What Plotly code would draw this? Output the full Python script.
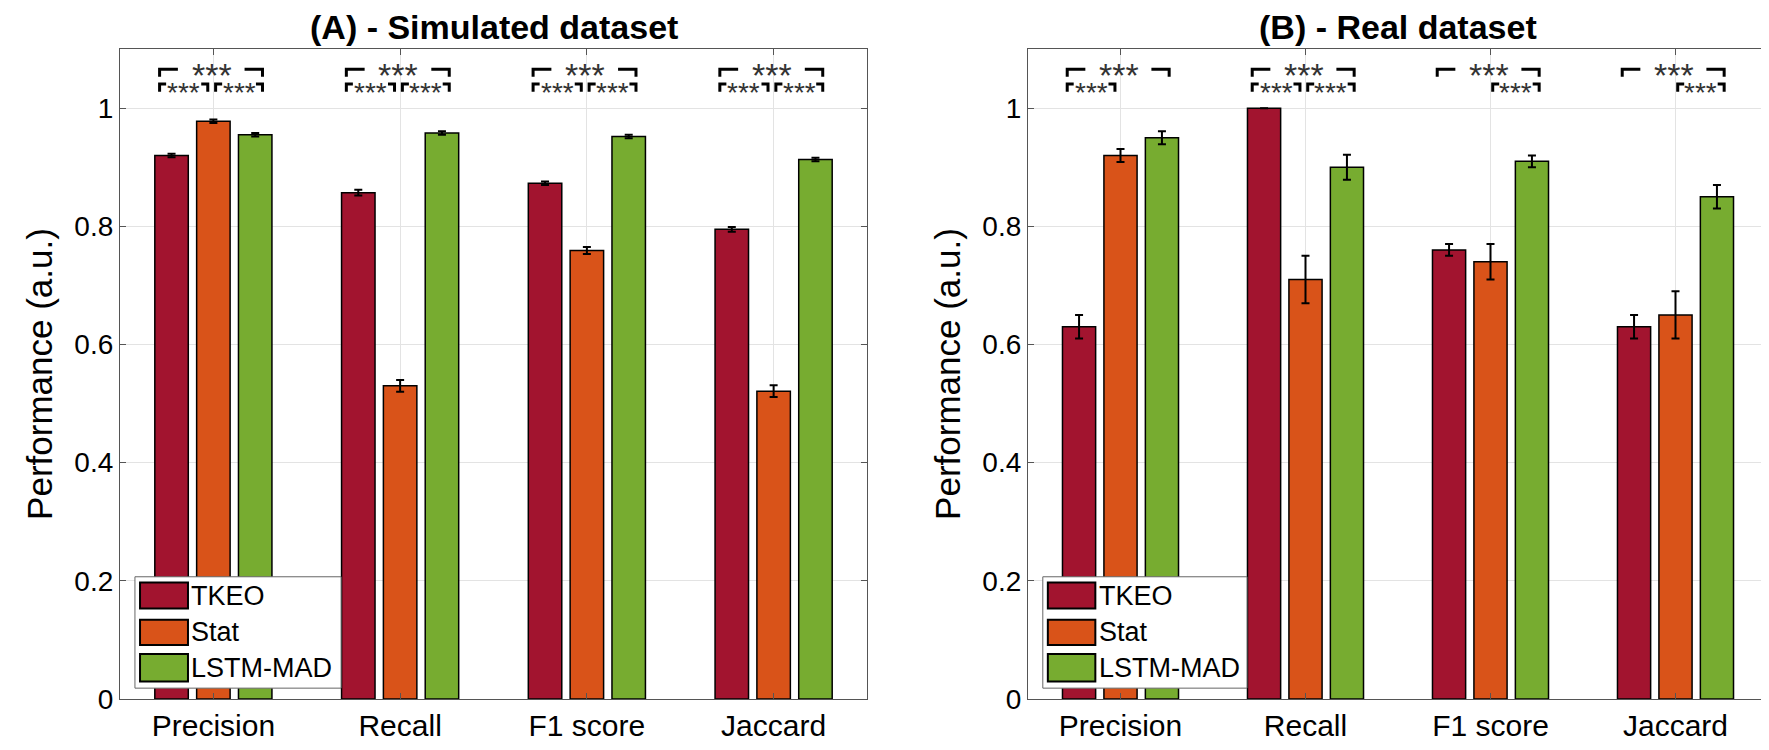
import plotly.graph_objects as go
from plotly.subplots import make_subplots

# --- data --------------------------------------------------------------
metrics = ["Precision", "Recall", "F1 score", "Jaccard"]
methods = ["TKEO", "Stat", "LSTM-MAD"]
colors  = ["#A2142F", "#D95319", "#77AC30"]

sim_tkeo = [0.920, 0.857, 0.873, 0.795]
sim_stat = [0.978, 0.530, 0.759, 0.521]
sim_lstm = [0.955, 0.958, 0.952, 0.913]
sim_tkeo_err = [0.003, 0.005, 0.003, 0.004]
sim_stat_err = [0.003, 0.010, 0.006, 0.010]
sim_lstm_err = [0.003, 0.003, 0.003, 0.003]

real_tkeo = [0.63, 1.00, 0.76, 0.63]
real_stat = [0.92, 0.71, 0.74, 0.65]
real_lstm = [0.95, 0.90, 0.91, 0.85]
real_tkeo_err = [0.020, 0.000, 0.010, 0.020]
real_stat_err = [0.011, 0.040, 0.030, 0.040]
real_lstm_err = [0.011, 0.021, 0.010, 0.020]

# significance brackets: (metric index, left method, right method)
sig_sim = [(i, a, b) for i in range(4) for (a, b) in [(0, 2), (0, 1), (1, 2)]]
sig_real = [(0, 0, 2), (0, 0, 1),
            (1, 0, 2), (1, 0, 1), (1, 1, 2),
            (2, 0, 2), (2, 1, 2),
            (3, 0, 2), (3, 1, 2)]

titles = ["(A) - Simulated dataset", "(B) - Real dataset"]

FONT = "Arial, Liberation Sans, sans-serif"
xpos = [1, 2, 3, 4]

fig = make_subplots(rows=1, cols=2)

panels = [
    ([sim_tkeo, sim_stat, sim_lstm], [sim_tkeo_err, sim_stat_err, sim_lstm_err], sig_sim),
    ([real_tkeo, real_stat, real_lstm], [real_tkeo_err, real_stat_err, real_lstm_err], sig_real),
]


def seg(xr, yr, path):
    fig.add_shape(type="path", path=path, xref=xr, yref=yr,
                  line=dict(color="black", width=3))


for p, (vals, errs, sigs) in enumerate(panels):
    col = p + 1
    for k in range(3):
        fig.add_trace(go.Bar(
            x=xpos, y=vals[k], name=methods[k],
            marker=dict(color=colors[k], line=dict(color="black", width=1.5)),
            error_y=dict(type="data", array=errs[k], color="black", thickness=2, width=4),
            showlegend=False,
        ), row=1, col=col)

    xr = "x" if p == 0 else "x2"
    yr = "y" if p == 0 else "y2"
    for (i, a, b) in sigs:
        c = xpos[i]
        if a == 0 and b == 2:
            # wide bracket TKEO vs LSTM-MAD, asterisks in a gap of the line
            x0, x1 = c - 0.288, c + 0.263
            yt, yb = 1.066, 1.053
            seg(xr, yr, f"M {x0},{yb} L {x0},{yt} L {c - 0.19},{yt}")
            seg(xr, yr, f"M {c + 0.167},{yt} L {x1},{yt} L {x1},{yb}")
            fig.add_annotation(x=c - 0.01, y=1.056, xref=xr, yref=yr, text="***",
                               showarrow=False, yanchor="middle",
                               font=dict(family=FONT, size=34, color="#333333"))
        else:
            if a == 0:
                x0, x1 = c - 0.288, c - 0.03
            else:
                x0, x1 = c + 0.012, c + 0.263
            yt, yb = 1.041, 1.028
            seg(xr, yr, f"M {x0},{yb} L {x0},{yt} L {x0 + 0.035},{yt}")
            seg(xr, yr, f"M {x1 - 0.035},{yt} L {x1},{yt} L {x1},{yb}")
            fig.add_annotation(x=(x0 + x1) / 2, y=1.027, xref=xr, yref=yr, text="***",
                               showarrow=False, yanchor="middle",
                               font=dict(family=FONT, size=28, color="#333333"))

    # legend drawn as a MATLAB-style box
    xd = "x domain" if p == 0 else "x2 domain"
    yd = "y domain" if p == 0 else "y2 domain"
    fig.add_shape(type="rect", xref=xd, yref=yd, x0=0.020, x1=0.296, y0=0.0166, y1=0.188,
                  fillcolor="white", line=dict(color="#666666", width=1))
    rows = [(0.179, 0.139), (0.122, 0.083), (0.069, 0.027)]
    for k in range(3):
        fig.add_shape(type="rect", xref=xd, yref=yd, x0=0.0268, x1=0.091,
                      y0=rows[k][1], y1=rows[k][0], fillcolor=colors[k],
                      line=dict(color="black", width=2))
        fig.add_annotation(xref=xd, yref=yd, x=0.093, y=(rows[k][0] + rows[k][1]) / 2,
                           text=methods[k], showarrow=False, xanchor="left", yanchor="middle",
                           font=dict(family=FONT, size=27, color="black"))

axis_common = dict(showline=True, linecolor="#555555", linewidth=1.2, mirror="ticks",
                   ticks="inside", ticklen=6, tickcolor="#555555",
                   showgrid=True, gridcolor="#e3e3e3", gridwidth=1, zeroline=False)

xdoms = [[112 / 1769, 859 / 1769], [1020 / 1769, 1760 / 1769]]
for p in range(2):
    xa = "xaxis" if p == 0 else "xaxis2"
    ya = "yaxis" if p == 0 else "yaxis2"
    fig.update_layout(**{
        xa: dict(domain=xdoms[p], range=[0.5, 4.5], tickvals=xpos, ticktext=metrics,
                 tickfont=dict(family=FONT, size=30, color="black"), **axis_common),
        ya: dict(domain=[1 - 706 / 750, 1 - 42 / 750], range=[0, 1.1],
                 tickvals=[0, 0.2, 0.4, 0.6, 0.8, 1.0],
                 ticktext=["0", "0.2", "0.4", "0.6", "0.8", "1"],
                 tickfont=dict(family=FONT, size=28, color="black"),
                 title=dict(text="Performance (a.u.)", standoff=11,
                            font=dict(family=FONT, size=35, color="black")),
                 **axis_common),
    })
    fig.add_annotation(xref="paper", yref="paper",
                       x=sum(xdoms[p]) / 2, y=1 - 19 / 750, text=f"<b>{titles[p]}</b>",
                       showarrow=False, xanchor="center", yanchor="middle",
                       font=dict(family=FONT, size=34, color="black"))

fig.update_layout(
    width=1769, height=750,
    margin=dict(l=0, r=0, t=0, b=0),
    plot_bgcolor="white", paper_bgcolor="white",
    barmode="group", bargap=0.328, bargroupgap=0.2,
)

fig.write_html("out.html")
